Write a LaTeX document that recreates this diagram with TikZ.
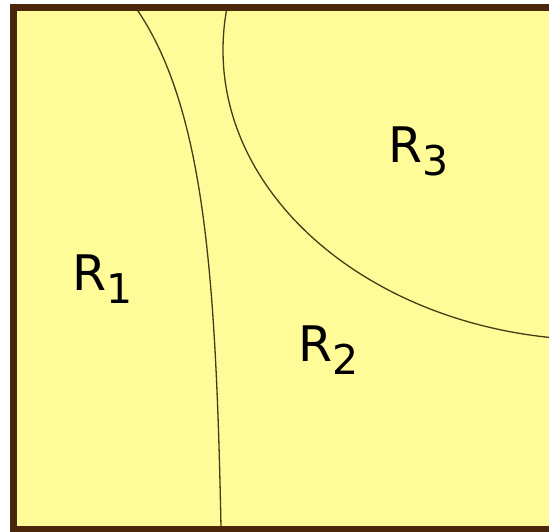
\documentclass[tikz,border=0pt]{standalone}
\usepackage{fontspec}
\setmainfont{DejaVu Sans}
\definecolor{fillyellow}{RGB}{255,251,153}
\definecolor{framebrown}{RGB}{74,38,10}
\definecolor{curvecol}{RGB}{70,60,20}
\tikzset{
  curve/.style={draw=curvecol, line width=1.3pt},
  regionlabel/.style={anchor=base west, inner sep=0pt, font=\fontsize{49}{49}\selectfont},
}
\newcommand{\rsub}[1]{\raisebox{-13pt}{\fontsize{41}{41}\selectfont #1}}
\begin{document}
\begin{tikzpicture}[x=1pt,y=-1pt]
\useasboundingbox (0,0) rectangle (549,532);
\clip (0,0) rectangle (549,532);
\fill[white] (0,0) rectangle (549,532);
\fill[fillyellow] (13.5,7.5) rectangle (570,529.5);
\begin{scope}
  \clip (13.5,7.5) rectangle (570,529.5);
  \draw[curve] (600,50) ellipse [x radius=377, y radius=290];
  \draw[curve] (134.3,4.7) -- (138,11) .. controls (205,111) and (216,280) .. (221,527) -- (221.2,535);
\end{scope}
\draw[framebrown, line width=6.5pt] (13.5,7.5) rectangle (570,529.5);
\node[regionlabel] (r1) at (72,290) {R\rsub{1}};
\node[regionlabel] (r2) at (298,361) {R\rsub{2}};
\node[regionlabel] (r3) at (388,163) {R\rsub{3}};
\end{tikzpicture}
\end{document}
